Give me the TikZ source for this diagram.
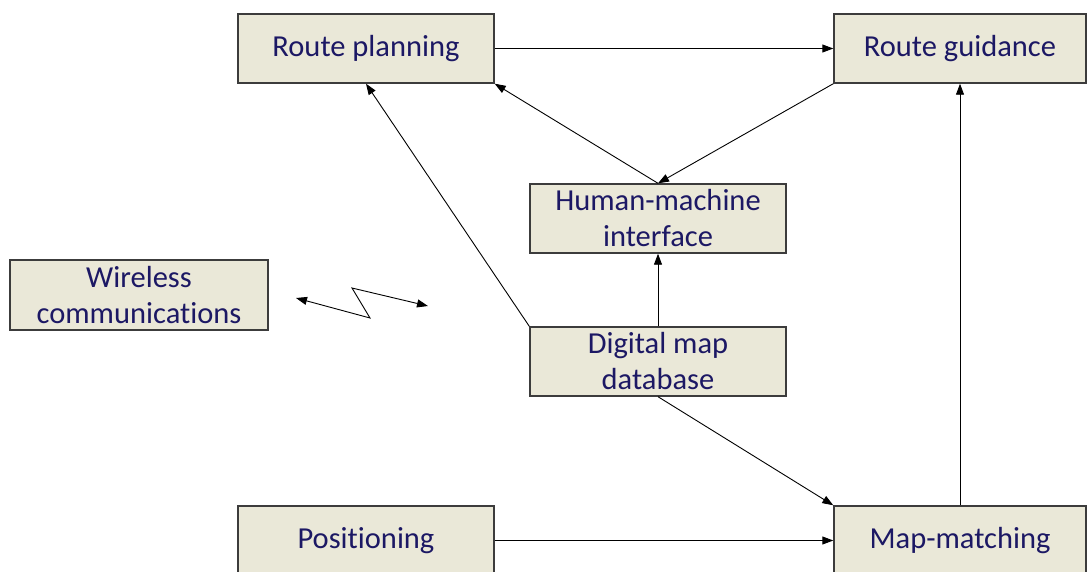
\documentclass[tikz,border=0pt]{standalone}
\usepackage{fontspec}
\setmainfont[Ligatures=NoCommon]{Carlito}
\usetikzlibrary{arrows.meta}
\definecolor{boxfill}{RGB}{234,232,216}
\definecolor{boxline}{RGB}{60,60,60}
\definecolor{boxtext}{RGB}{28,24,100}
\tikzset{
  block/.style={draw=boxline, line width=1.4pt, fill=boxfill, text=boxtext,
    minimum width=256pt, minimum height=69pt, inner sep=0pt, align=center,
    font=\fontsize{30.5}{36}\selectfont},
  wide/.style={minimum width=252pt},
  link/.style={draw=black, line width=0.9pt, -{Triangle[length=11pt,width=8pt]}},
  radio/.style={draw=black, line width=0.9pt, {Triangle[length=11pt,width=8pt]}-{Triangle[length=11pt,width=8pt]}}
}
\begin{document}
\begin{tikzpicture}[x=1pt,y=-1pt]
\useasboundingbox (0,0) rectangle (1087,571);
\clip (0,0) rectangle (1087,571);

% boxes
\node[block] (rp) at (366,48.5) {Route planning};
\node[block,wide] (rg) at (960,48.5) {Route guidance};
\node[block] (hmi) at (658,218.5) {Human-machine\\interface};
\node[block,minimum width=258pt,minimum height=70pt] (wc) at (139,295) {Wireless\\communications};
\node[block] (dmd) at (658,361.5) {Digital map\\database};
\node[block] (pos) at (366,540.5) {Positioning};
\node[block,wide] (mm) at (960,540.5) {Map-matching};

% data flow
\draw[link] (rp.east) -- (rg.west);
\draw[link] (rg.south west) -- (hmi.north);
\draw[link] (hmi.north) -- (rp.south east);
\draw[link] (dmd.north west) -- (rp.south);
\draw[link] (dmd.north) -- (hmi.south);
\draw[link] (dmd.south) -- (mm.north west);
\draw[link] (pos.east) -- (mm.west);
\draw[link] (mm.north) -- (rg.south);

% wireless link symbol
\coordinate (z1) at (296,298);
\coordinate (z2) at (370,318);
\coordinate (z3) at (352,288);
\coordinate (z4) at (428,306);
\draw[radio] (z1) -- (z2) -- (z3) -- (z4);
\end{tikzpicture}
\end{document}
